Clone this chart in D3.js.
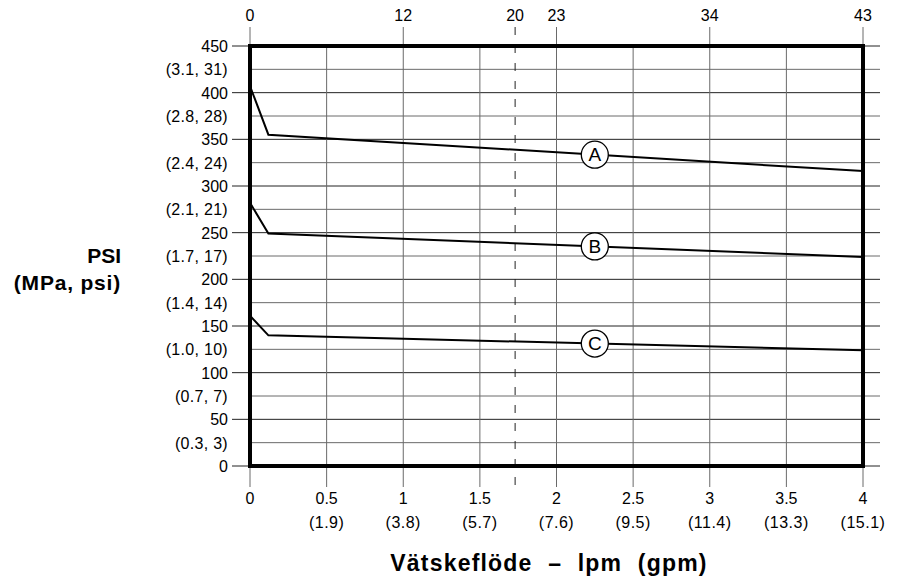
<!DOCTYPE html>
<html><head><meta charset="utf-8">
<script src="https://cdn.jsdelivr.net/npm/d3@7"></script>
<style>
body{margin:0;background:#fff;}
svg{display:block;font-family:"Liberation Sans",Arial,sans-serif;}
</style></head>
<body><svg id="c" width="898" height="581"></svg>
<script>
// ---- data ----
const psiTicks = [0,50,100,150,200,250,300,350,400,450];
const midTicks = [25,75,125,175,225,275,325,375,425];
const midLabels = ["(0.3, 3)","(0.7, 7)","(1.0, 10)","(1.4, 14)","(1.7, 17)","(2.1, 21)","(2.4, 24)","(2.8, 28)","(3.1, 31)"];
const xTicks = [0,0.5,1,1.5,2,2.5,3,3.5,4];
const xLabels = ["0","0.5","1","1.5","2","2.5","3","3.5","4"];
const xSubLabels = ["","(1.9)","(3.8)","(5.7)","(7.6)","(9.5)","(11.4)","(13.3)","(15.1)"];
const topTicks = [0,1,2,3,4];
const topLabels = ["0","12","23","34","43"];
const dashX = 1.73;
const dashLabel = "20";
const curveNames = ["A","B","C"];
const curveX = [0,0.12,4];
const curveA = [407,355,316];
const curveB = [282,249,224];
const curveC = [161,140,124];
const labelX = 2.25;

const svg = d3.select("#c");
const x = d3.scaleLinear().domain([0,4]).range([250,863]);
const y = d3.scaleLinear().domain([0,450]).range([466,46]);
const grid = "#6a6a6a";

svg.append("g").selectAll("line").data(midTicks).join("line")
  .attr("x1",x(0)).attr("x2",880).attr("y1",d=>y(d)).attr("y2",d=>y(d))
  .attr("stroke",grid).attr("stroke-width",1);
svg.append("g").selectAll("line").data(psiTicks).join("line")
  .attr("x1",232).attr("x2",880).attr("y1",d=>y(d)).attr("y2",d=>y(d))
  .attr("stroke","#222").attr("stroke-width",1);
svg.append("g").selectAll("line").data(xTicks).join("line")
  .attr("x1",d=>x(d)).attr("x2",d=>x(d)).attr("y1",y(450)).attr("y2",487)
  .attr("stroke",grid).attr("stroke-width",1);
svg.append("g").selectAll("line").data(topTicks).join("line")
  .attr("x1",d=>x(d)).attr("x2",d=>x(d)).attr("y1",27).attr("y2",y(450))
  .attr("stroke",grid).attr("stroke-width",1);
svg.append("line").attr("x1",x(dashX)).attr("x2",x(dashX)).attr("y1",27).attr("y2",486)
  .attr("stroke","#222").attr("stroke-width",1).attr("stroke-dasharray","8,10");

svg.append("rect").attr("x",x(0)).attr("y",y(450)).attr("width",x(4)-x(0)).attr("height",y(0)-y(450))
  .attr("fill","none").attr("stroke","#000").attr("stroke-width",4);

const line = d3.line().x((d,i)=>x(curveX[i])).y(d=>y(d));
const curves = [curveA,curveB,curveC];
curves.forEach((c,i)=>{
  svg.append("path").attr("d",line(c)).attr("fill","none").attr("stroke","#000").attr("stroke-width",2);
  const k = (labelX-curveX[1])/(curveX[2]-curveX[1]);
  const v = c[1]+(c[2]-c[1])*k;
  svg.append("circle").attr("cx",x(labelX)).attr("cy",y(v)).attr("r",13.5)
    .attr("fill","#fff").attr("stroke","#000").attr("stroke-width",1.3);
  svg.append("text").attr("x",x(labelX)).attr("y",y(v)+6.5).attr("text-anchor","middle")
    .attr("font-size",19).text(curveNames[i]);
});

svg.append("g").selectAll("text").data(psiTicks).join("text")
  .attr("x",228).attr("y",d=>y(d)+6).attr("text-anchor","end").attr("font-size",16)
  .text(d=>d);
svg.append("g").selectAll("text").data(midTicks).join("text")
  .attr("x",228).attr("y",d=>y(d)+6).attr("text-anchor","end").attr("font-size",16)
  .attr("letter-spacing",0.3).text((d,i)=>midLabels[i]);

svg.append("g").selectAll("text").data(xTicks).join("text")
  .attr("x",d=>x(d)).attr("y",504).attr("text-anchor","middle").attr("font-size",16)
  .text((d,i)=>xLabels[i]);
svg.append("g").selectAll("text").data(xTicks).join("text")
  .attr("x",d=>x(d)).attr("y",528).attr("text-anchor","middle").attr("font-size",16)
  .attr("letter-spacing",0.5).text((d,i)=>xSubLabels[i]);

svg.append("g").selectAll("text").data(topTicks).join("text")
  .attr("x",d=>x(d)).attr("y",21).attr("text-anchor","middle").attr("font-size",16)
  .text((d,i)=>topLabels[i]);
svg.append("text").attr("x",x(dashX)).attr("y",21).attr("text-anchor","middle").attr("font-size",16).text(dashLabel);

svg.append("text").attr("x",121).attr("y",263).attr("text-anchor","end").attr("font-size",21)
  .attr("font-weight","bold").text("PSI");
svg.append("text").attr("x",121).attr("y",290).attr("text-anchor","end").attr("font-size",21)
  .attr("font-weight","bold").attr("letter-spacing",0.8).text("(MPa, psi)");
svg.append("text").attr("x",549).attr("y",571).attr("text-anchor","middle").attr("font-size",23)
  .attr("font-weight","bold").attr("letter-spacing",1.2).attr("word-spacing",8)
  .text("Vätskeflöde – lpm (gpm)");
</script></body></html>
